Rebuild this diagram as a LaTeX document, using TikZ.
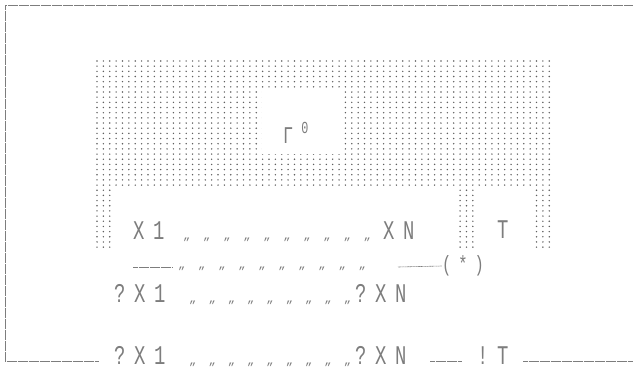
\documentclass[tikz,border=0pt]{standalone}
\usepackage{fontspec}
\newfontfamily\dotfont[FakeStretch=0.7, LetterSpace=32]{Liberation Mono}
\newfontfamily\tickfont[LetterSpace=107]{Liberation Mono}
\newfontfamily\tickfontb[LetterSpace=101]{Liberation Mono}
\definecolor{inkgray}{RGB}{125,125,125}
\definecolor{dotgray}{RGB}{95,95,95}
\usetikzlibrary{positioning}

\begin{document}
\begin{tikzpicture}[x=1pt, y=-1pt,
  lbl/.style={inner sep=0pt, anchor=base west, text=inkgray,
              font=\dotfont\fontsize{27}{29}\selectfont},
  ticks/.style={inner sep=0pt, anchor=base west, text=inkgray,
                font=\tickfont\fontsize{12}{14}\selectfont},
  ticksb/.style={ticks, font=\tickfontb\fontsize{12}{14}\selectfont},
  rule/.style={draw=inkgray, line width=0.6pt, dash pattern=on 0.7pt off 0.4pt}
]
\useasboundingbox (0,0) rectangle (633,369);

% dotted block
\foreach \i in {0,...,71}
  \foreach \j in {0,...,24}
    \fill[dotgray] (97+6.37*\i, 61+5.17*\j) circle (0.8pt);
\foreach \i in {0,1,2,57,58,59,69,70,71}
  \foreach \j in {25,...,36}
    \fill[dotgray] (97+6.37*\i, 61+5.17*\j) circle (0.8pt);
\fill[white] (262,88) rectangle (343,154);
\node[inner sep=0pt, anchor=base west, text=inkgray, font=\dotfont\fontsize{24}{26}\selectfont]
  (gam) at (283,143) {Γ\hspace{8pt}\textsuperscript{0}};

% frame
\coordinate (tr) at (633,5);
\coordinate (tl) at (5,5);
\coordinate (bl) at (5,361);
\coordinate (b1) at (98,361);
\draw[rule] (tr) -- (tl) -- (bl) -- (b1);

% row 1
\node[lbl] (x1) at (133,240) {X1};
\node[ticks] (m1) at (183,240) {„„„„„„„„„„};
\node[lbl] (xn) at (383,240) {XN};
\node[lbl] (t) at (497,238) {T};

% row 2
\coordinate (l1) at (133,267);
\coordinate (l2) at (172,267);
\draw[rule] (l1) -- (l2);
\node[ticks] (m2) at (178,269) {„„„„„„„„„„};
\node[lbl, anchor=center, font=\dotfont\fontsize{22}{24}\selectfont] (star) at (463,266) {(*)};
\coordinate (l3) at (398,267);
\draw[rule] (l3) -- (star.west);

% row 3
\node[lbl] (q1) at (114,302) {?X1};
\node[ticksb] (m3) at (189,302) {„„„„„„„„„};
\node[lbl] (qn) at (355,302) {?XN};

% row 4
\node[lbl] (q1b) at (114,364) {?X1};
\node[ticksb] (m4) at (189,364) {„„„„„„„„„};
\node[lbl] (qnb) at (355,364) {?XN};
\node[lbl] (it) at (477,364) {!T};
\coordinate (l4) at (430,361);
\coordinate (l5) at (461,361);
\coordinate (l6) at (523,361);
\coordinate (er) at (633,361);
\draw[rule] (l4) -- (l5);
\draw[rule] (l6) -- (er);
\end{tikzpicture}
\end{document}
